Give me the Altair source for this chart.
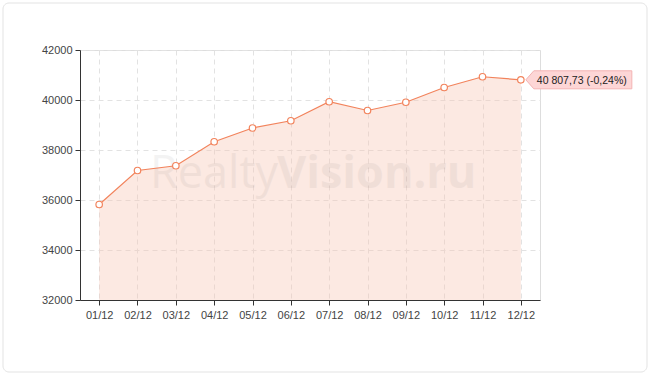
import altair as alt
import pandas as pd

months = ["01/12", "02/12", "03/12", "04/12", "05/12", "06/12",
          "07/12", "08/12", "09/12", "10/12", "11/12", "12/12"]
values = [35820, 37180, 37370, 38330, 38880, 39170,
          39930, 39580, 39910, 40500, 40930, 40807.73]
y_ticks = [32000, 34000, 36000, 38000, 40000, 42000]
last_label = "40 807,73 (-0,24%)"
watermark_a = "Realty"
watermark_b = "Vision.ru"

LINE = "#f2835c"
FONT = "Liberation Sans"

df = pd.DataFrame({"month": months, "value": values})
last_df = pd.DataFrame({"month": [months[-1]], "value": [values[-1]], "label": [last_label]})
one = pd.DataFrame({"a": [0]})

x_enc = alt.X(
    "month:N", sort=months,
    scale=alt.Scale(type="point", padding=0.5),
    axis=alt.Axis(title=None, labelAngle=0, grid=True, gridDash=[5, 4],
                  gridColor="#e2e2e2", domainColor="#333333", tickColor="#333333",
                  tickSize=5, labelColor="#444444", labelFontSize=11, labelFont=FONT,
                  labelPadding=4),
)
y_scale = alt.Scale(domain=[32000, 42000], zero=False, nice=False)
y_enc = alt.Y(
    "value:Q", scale=y_scale,
    axis=alt.Axis(title=None, values=y_ticks, format="d", grid=True, gridDash=[5, 4],
                  gridColor="#e2e2e2", domainColor="#333333", tickColor="#333333",
                  tickSize=5, labelColor="#444444", labelFontSize=11, labelFont=FONT,
                  labelPadding=3),
)

frame = alt.Chart(one).mark_rect(
    fillOpacity=0, stroke="#e3e3e3", strokeWidth=1, cornerRadius=6
).encode(x=alt.value(-77), x2=alt.value(567), y=alt.value(-47), y2=alt.value(322))

area = alt.Chart(df).mark_area(color="#f7c5b3", opacity=0.38).encode(
    x=x_enc, y=y_enc, y2=alt.datum(32000)
)

wm1 = alt.Chart(one).mark_text(
    text=watermark_a, font="Open Sans", fontSize=45, align="left", baseline="alphabetic",
    color="#000000", opacity=0.045
).encode(x=alt.value(70), y=alt.value(138))
wm2 = alt.Chart(one).mark_text(
    text=watermark_b, font="Open Sans", fontWeight="bold", fontSize=45, align="left",
    baseline="alphabetic", color="#000000", opacity=0.045
).encode(x=alt.value(197), y=alt.value(138))

line = alt.Chart(df).mark_line(color=LINE, strokeWidth=1.2).encode(x=x_enc, y=y_enc)
points = alt.Chart(df).mark_point(
    filled=True, fill="white", stroke=LINE, strokeWidth=1.2, size=42, opacity=1
).encode(x=x_enc, y=y_enc)

callout = alt.Chart(last_df).mark_point(
    shape="M -1 0 L -0.849 -0.17 L 1 -0.17 L 1 0.17 L -0.849 0.17 Z",
    size=11236, filled=True, fill="#fdd6d6", stroke="#f3b4b4", strokeWidth=1,
    opacity=1, xOffset=58
).encode(x=x_enc, y=y_enc)
callout_text = alt.Chart(last_df).mark_text(
    align="left", baseline="middle", dx=16, dy=1, fontSize=10.5, font=FONT, color="#222222"
).encode(x=x_enc, y=y_enc, text="label:N")

chart = alt.layer(
    frame, area, wm1, wm2, line, points, callout, callout_text
).properties(
    width=460, height=250,
    autosize=alt.AutoSizeParams(type="none"),
    padding={"left": 80, "top": 50, "right": 110, "bottom": 75},
).configure_view(
    fill="#f7f7f7", stroke="#dddddd"
).configure(background="white")

chart.save("out.html", embed_options={"renderer": "svg", "actions": False})
